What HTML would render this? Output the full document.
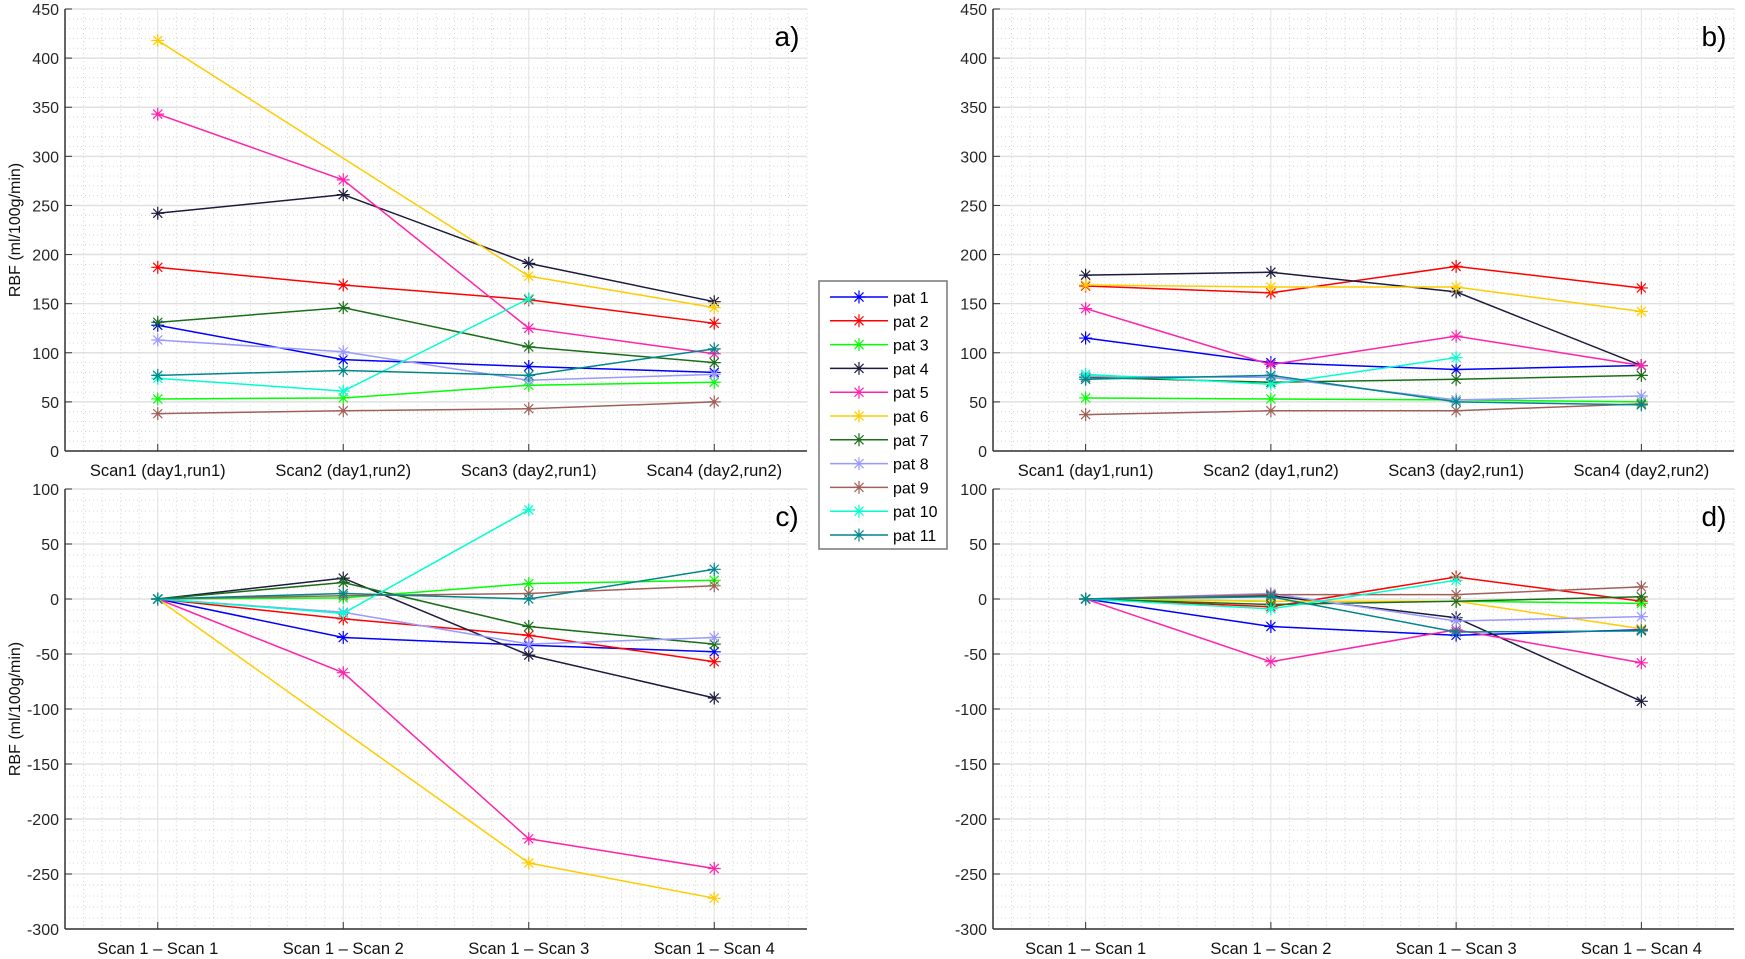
<!DOCTYPE html>
<html><head><meta charset="utf-8"><style>
html,body{margin:0;padding:0;background:#fff;}
svg{display:block;font-family:"Liberation Sans",sans-serif;}
</style></head><body>
<svg id="fig" width="1745" height="959" viewBox="0 0 1745 959"></svg>
<script>
const categoriesTop = ["Scan1 (day1,run1)","Scan2 (day1,run2)","Scan3 (day2,run1)","Scan4 (day2,run2)"];
const categoriesBottom = ["Scan 1 \u2013 Scan 1","Scan 1 \u2013 Scan 2","Scan 1 \u2013 Scan 3","Scan 1 \u2013 Scan 4"];
const seriesNames = ["pat 1","pat 2","pat 3","pat 4","pat 5","pat 6","pat 7","pat 8","pat 9","pat 10","pat 11"];
const seriesColors = ["#0000ff","#ff0000","#00ff00","#1c1c3c","#ff22aa","#ffcc00","#1a6e1a","#9999ff","#a0605a","#00ffcc","#00868b"];
const ticksTop = [0,50,100,150,200,250,300,350,400,450];
const ticksBottom = [-300,-250,-200,-150,-100,-50,0,50,100];
const dataA = [
 [128,93,86,80],[187,169,154,130],[53,54,67,70],[242,261,191,152],[343,276,125,99],
 [418,298,178,146],[131,146,106,90],[113,101,72,78],[38,41,43,50],[74,61,155,null],[77,82,77,104]];
const dataB = [
 [115,90,83,87],[168,161,188,166],[54,53,52,50],[179,182,162,87],[145,88,117,87],
 [169,167,167,142],[75,70,73,77],[76,75,52,56],[37,41,41,48],[78,68,95,null],[73,77,50,47]];
const dataC = [
 [0,-35,-42,-48],[0,-18,-33,-57],[0,1,14,17],[0,19,-51,-90],[0,-67,-218,-245],
 [0,-120,-240,-272],[0,15,-25,-41],[0,-12,-41,-35],[0,3,5,12],[0,-13,81,null],[0,5,0,27]];
const dataD = [
 [0,-25,-33,-28],[0,-7,20,-2],[0,-2,-2,-4],[0,3,-17,-93],[0,-57,-28,-58],
 [0,-2,-2,-27],[0,-5,-2,2],[0,5,-20,-16],[0,4,4,11],[0,-9,17,null],[0,2,-30,-29]];
// markers absent in the source figure: "seriesIndex-pointIndex"
const hiddenMarkers = ["5-1"];

const NS="http://www.w3.org/2000/svg";
const svg=document.getElementById('fig');
function mk(tag,attrs,parent){const e=document.createElementNS(NS,tag);for(const k in attrs)e.setAttribute(k,attrs[k]);(parent||svg).appendChild(e);return e;}

function panel(id,box,ymin,ymax,ticks,cats,data,label,showTitle,hide){
  const g=mk('g',{});
  
  
  const xs=v=>box.l+(v-0.5)/4*(box.r-box.l);
  const ys=v=>box.b-(v-ymin)/(ymax-ymin)*(box.b-box.t);
  for(let v=ymin;v<=ymax;v+=10){if(v%50===0)continue;
    mk('line',{x1:box.l,x2:box.r,y1:ys(v),y2:ys(v),stroke:'#d4d4d4','stroke-width':1,'stroke-dasharray':'1,3'},g);}
  for(let i=0;i<=40;i++){const xv=0.5+i*0.1;if(Math.abs((xv*10)%10)<0.01)continue;
    mk('line',{x1:xs(xv),x2:xs(xv),y1:box.t,y2:box.b,stroke:'#d4d4d4','stroke-width':1,'stroke-dasharray':'1,3'},g);}
  ticks.forEach(v=>{mk('line',{x1:box.l,x2:box.r,y1:ys(v),y2:ys(v),stroke:'#e0e0e0','stroke-width':1.5},g);});
  cats.forEach((c,i)=>{mk('line',{x1:xs(i+1),x2:xs(i+1),y1:box.t,y2:box.b,stroke:'#e0e0e0','stroke-width':1},g);});
  mk('line',{x1:box.l,x2:box.l,y1:box.t,y2:box.b,stroke:'#333','stroke-width':1.5},g);
  mk('line',{x1:box.l,x2:box.r,y1:box.b,y2:box.b,stroke:'#333','stroke-width':1.5},g);
  ticks.forEach(v=>{
    mk('line',{x1:box.l,x2:box.l+7,y1:ys(v),y2:ys(v),stroke:'#333','stroke-width':1},g);
    const t=mk('text',{x:box.l-6,y:ys(v)+6,'text-anchor':'end','font-size':16,fill:'#262626'},g);
    t.textContent=v;
    
    
  });
  cats.forEach((c,i)=>{
    mk('line',{x1:xs(i+1),x2:xs(i+1),y1:box.b,y2:box.b-7,stroke:'#333','stroke-width':1},g);
    const t=mk('text',{x:xs(i+1),y:box.b+25,'text-anchor':'middle','font-size':16.5,fill:'#111'},g);
    t.textContent=c;
    
    
  });
  data.forEach((vals,si)=>{
    const col=seriesColors[si];
    const sg=mk('g',{},g);
    
    
    let d='';
    vals.forEach((v,i)=>{if(v===null)return;d+=(d?'L':'M')+xs(i+1)+','+ys(v);});
    mk('path',{d:d,fill:'none',stroke:col,'stroke-width':1.5},sg);
    vals.forEach((v,i)=>{if(v===null)return;if(hide&&hide.includes(si+'-'+i))return;star(sg,xs(i+1),ys(v),col);});
  });
  const lt=mk('text',{x:box.r-20,y:box.t+37,'text-anchor':'middle','font-size':28,fill:'#000'},g);
  lt.textContent=label;
  
  
  if(showTitle){
    const cy=(box.t+box.b)/2;
    const tt=mk('text',{x:0,y:0,transform:'translate(20,'+cy+') rotate(-90)','text-anchor':'middle','font-size':16,fill:'#111'},g);
    tt.textContent='RBF (ml/100g/min)';
    
    
  }
}
function star(p,x,y,col){const r=6.5,q=r*0.7;
  mk('path',{d:`M${x-r},${y}H${x+r}M${x},${y-r}V${y+r}M${x-q},${y-q}L${x+q},${y+q}M${x-q},${y+q}L${x+q},${y-q}`,stroke:col,'stroke-width':1.2,fill:'none'},p);}

panel('a',{l:65,r:807,t:9,b:451},0,450,ticksTop,categoriesTop,dataA,'a)',true,hiddenMarkers);
panel('b',{l:993,r:1734,t:9,b:451},0,450,ticksTop,categoriesTop,dataB,'b)',false,null);
panel('c',{l:65,r:807,t:489,b:929},-300,100,ticksBottom,categoriesBottom,dataC,'c)',true,hiddenMarkers);
panel('d',{l:993,r:1734,t:489,b:929},-300,100,ticksBottom,categoriesBottom,dataD,'d)',false,null);

const lg=mk('g',{});


mk('rect',{x:819,y:281,width:128,height:268,fill:'#fff',stroke:'#777','stroke-width':1.5},lg);
seriesNames.forEach((n,i)=>{
  const y=297+i*23.8;
  const e=mk('g',{},lg);
  
  
  mk('line',{x1:830,x2:888,y1:y,y2:y,stroke:seriesColors[i],'stroke-width':1.5},e);
  star(e,859,y,seriesColors[i]);
  const t=mk('text',{x:893,y:y+6,'font-size':16,fill:'#000'},e);
  t.textContent=n;
});
</script>
</body></html>
